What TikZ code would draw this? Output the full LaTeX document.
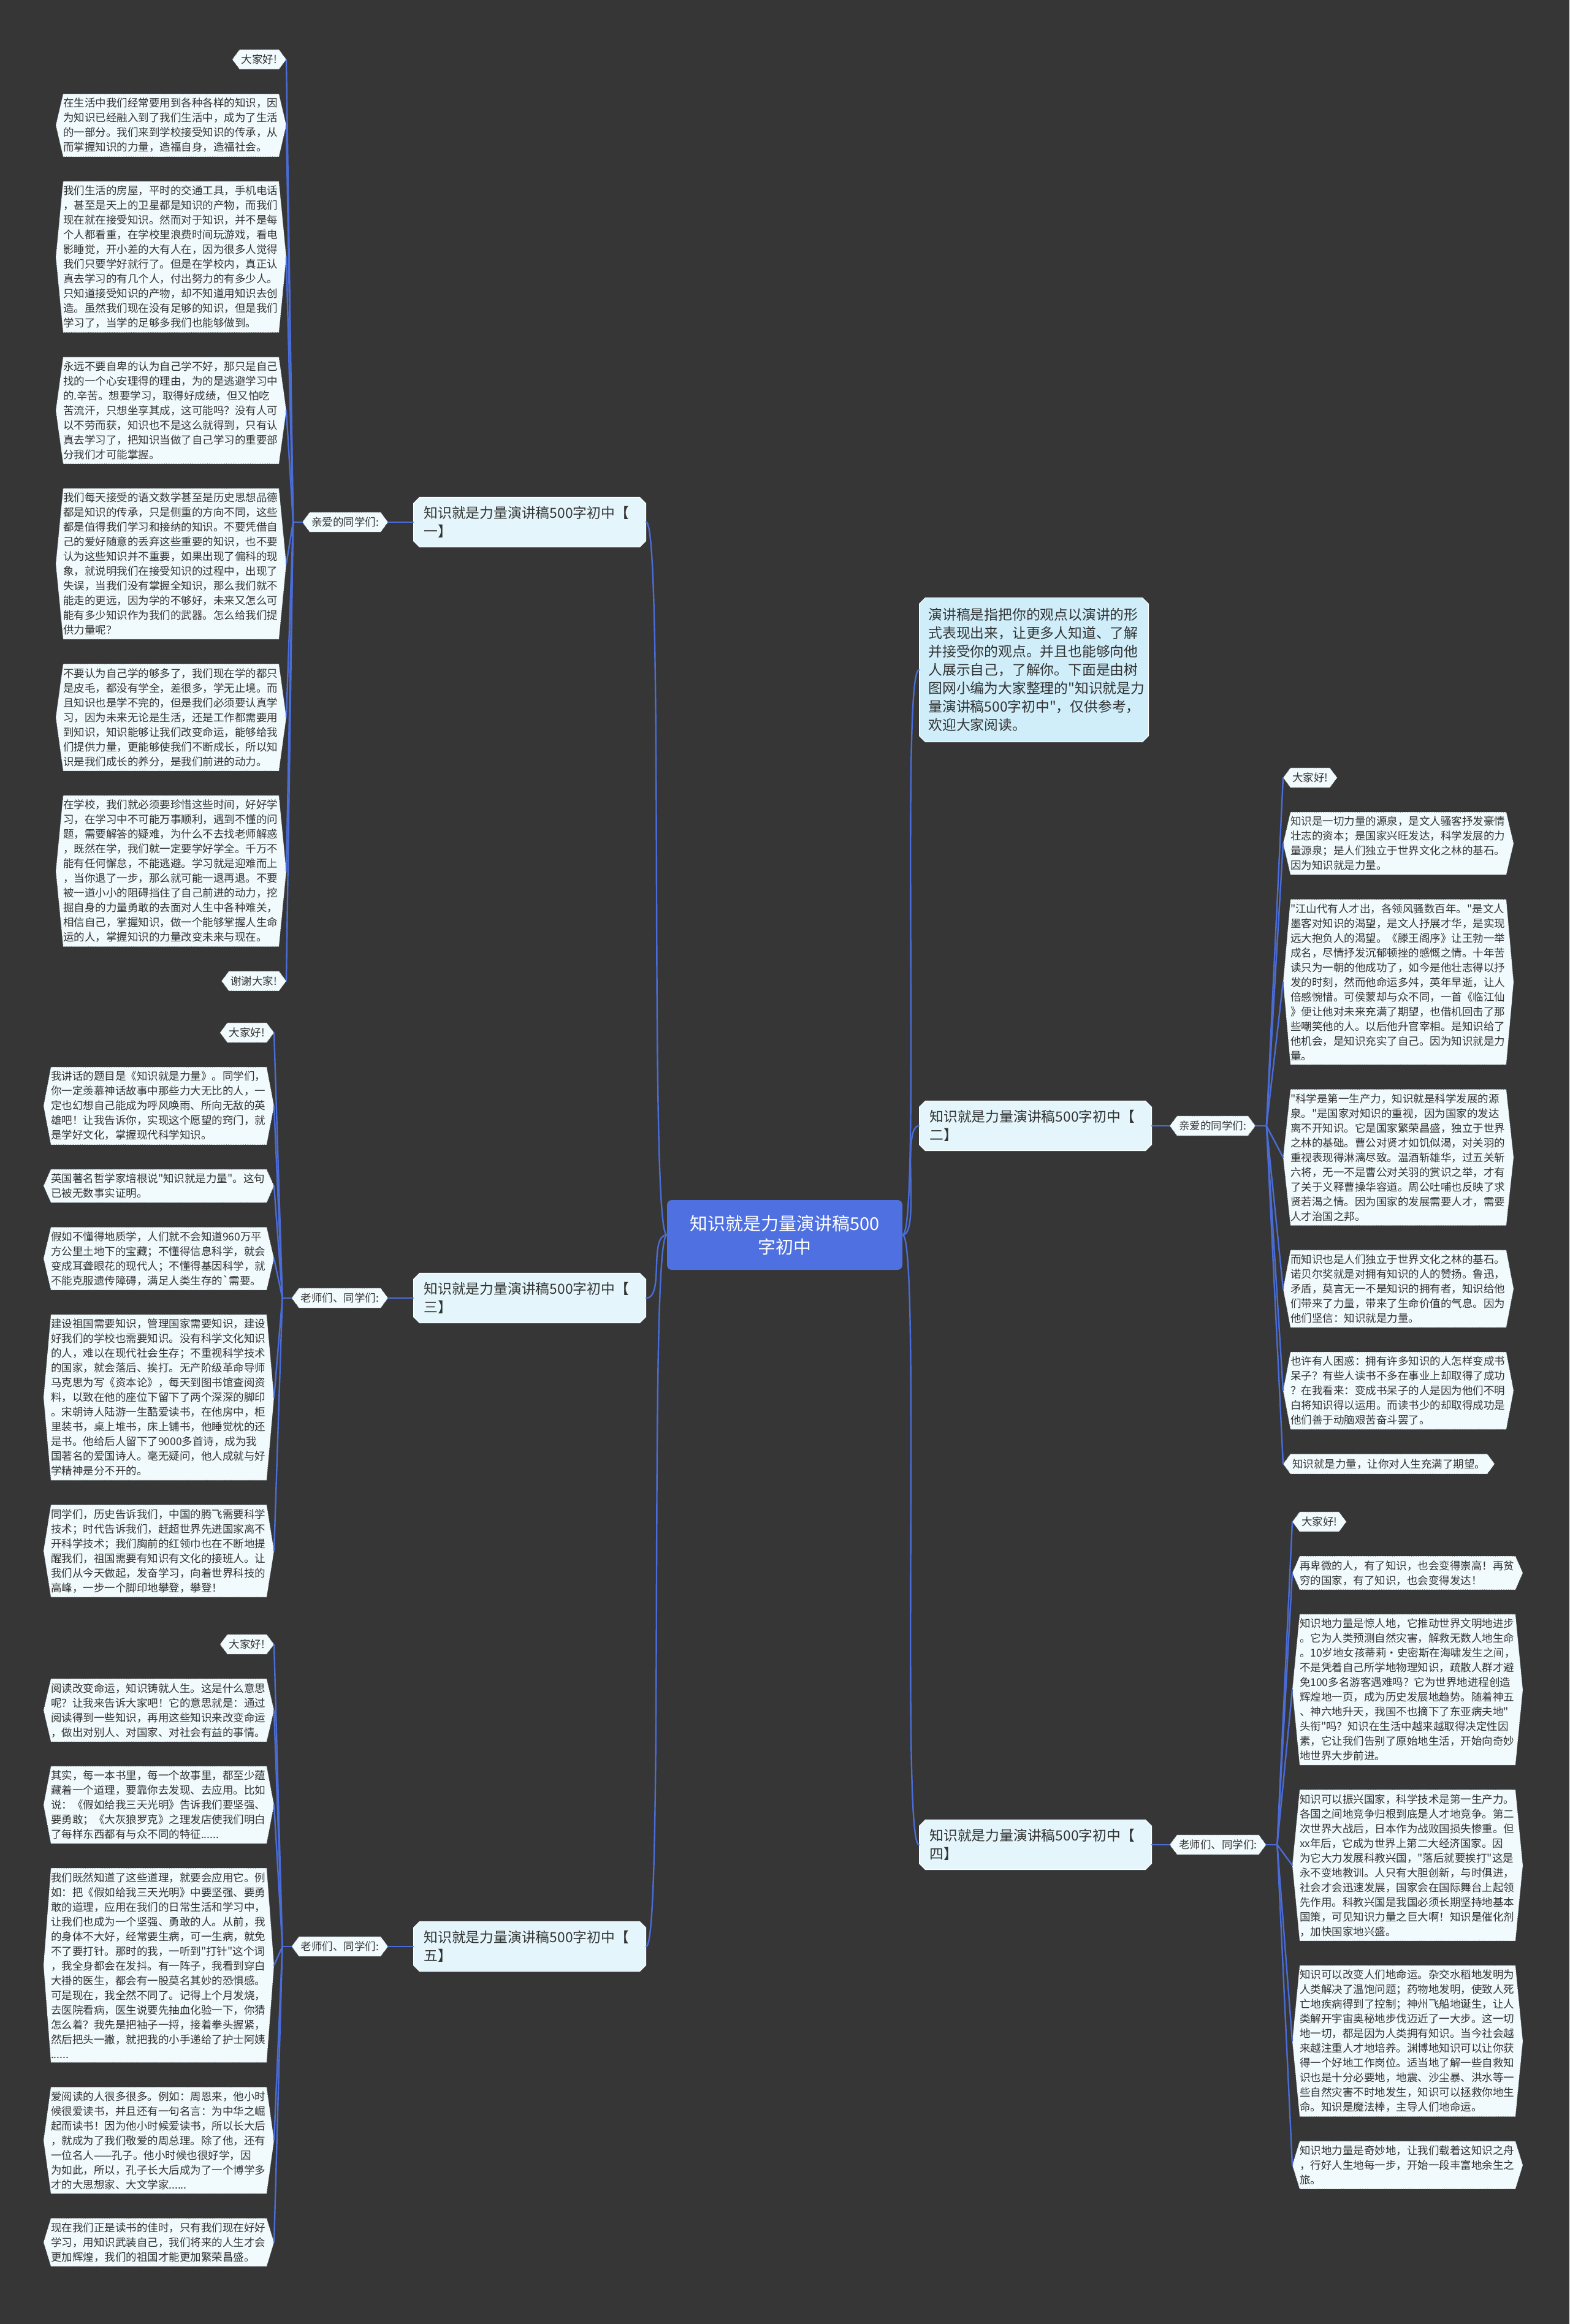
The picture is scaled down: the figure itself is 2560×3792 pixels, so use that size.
\documentclass[tikz,border=0pt]{standalone}
\usepackage{fontspec}
\setmainfont{Noto Sans CJK SC}[Ligatures=TeXOff]
\usepackage{xcolor}
\usetikzlibrary{positioning,calc,backgrounds,shapes.misc}
\definecolor{bgdark}{HTML}{363636}
\definecolor{linkblue}{HTML}{4A6CD6}
\definecolor{rootblue}{HTML}{4F70E0}
\definecolor{introfill}{HTML}{CFEEFA}
\definecolor{topicfill}{HTML}{E4F6FB}
\definecolor{leaffill}{HTML}{F1FAFC}
\definecolor{leafline}{HTML}{555555}
\definecolor{txtdark}{HTML}{333333}
\tikzset{
  mmroot/.style={fill=rootblue,rounded corners=8pt,text=white,align=center,text width=340pt,inner xsep=22pt,inner ysep=20pt,minimum height=114pt,font=\fontsize{29}{38}\selectfont},
  mmtopic/.style={chamfered rectangle,chamfered rectangle sep=5pt,fill=topicfill,draw=white,line width=1pt,text=txtdark,align=left,text width=345pt,inner xsep=12pt,inner ysep=10pt,font=\fontsize{22.8}{30}\selectfont},
  mmintro/.style={mmtopic,fill=introfill,text width=344pt,inner xsep=10pt,inner ysep=12pt},
  mmleaf/.style={text width=352pt,align=left,inner xsep=0pt,inner ysep=7pt,outer xsep=12pt,outer ysep=0pt,text=txtdark,font=\fontsize{17.5}{24}\selectfont},
  mmtag/.style={inner xsep=3pt,inner ysep=8pt,outer xsep=12pt,outer ysep=0pt,text=txtdark,font=\fontsize{17.5}{24}\selectfont},
  mmhex/.style={fill=leaffill,draw=leafline,dotted,line width=0.8pt},
  mmlink/.style={draw=linkblue,line width=2.4pt,line cap=round}
}
\begin{document}
\begin{tikzpicture}[x=1pt,y=1pt]
\useasboundingbox (0,0) rectangle (2560,-3792);

\node[mmroot] (root) at (1280,-2015) {知识就是力量演讲稿500\\字初中};

\node[mmtopic,anchor=east] (t1) at (1054,-852) {知识就是力量演讲稿500字初中【\\一】};
\node[mmtopic,anchor=east] (t3) at (1054,-2118) {知识就是力量演讲稿500字初中【\\三】};
\node[mmtopic,anchor=east] (t5) at (1054,-3176) {知识就是力量演讲稿500字初中【\\五】};
\node[mmintro,anchor=west] (intro) at (1499,-1093) {演讲稿是指把你的观点以演讲的形\\式表现出来，让更多人知道、了解\\并接受你的观点。并且也能够向他\\人展示自己，了解你。下面是由树\\图网小编为大家整理的"知识就是力\\量演讲稿500字初中"，仅供参考，\\欢迎大家阅读。};
\node[mmtopic,anchor=west] (t2) at (1499,-1837) {知识就是力量演讲稿500字初中【\\二】};
\node[mmtopic,anchor=west] (t4) at (1499,-3010) {知识就是力量演讲稿500字初中【\\四】};

\node[mmtag,left=41pt of t1] (s1) {亲爱的同学们:};
\node[mmtag,left=41pt of t3] (s3) {老师们、同学们:};
\node[mmtag,left=41pt of t5] (s5) {老师们、同学们:};
\node[mmtag,right=29pt of t2] (s2) {亲爱的同学们:};
\node[mmtag,right=29pt of t4] (s4) {老师们、同学们:};

\coordinate (h1) at ([xshift=-15pt]s1.west);
\coordinate (h3) at ([xshift=-15pt]s3.west);
\coordinate (h5) at ([xshift=-15pt]s5.west);
\coordinate (h2) at ([xshift=18pt]s2.east);
\coordinate (h4) at ([xshift=18pt]s4.east);

% branch one
\node[mmtag,anchor=east] (l1a) at (467,-97) {大家好!};
\node[mmleaf,below=40pt of l1a.south east,anchor=north east] (l1b) {在生活中我们经常要用到各种各样的知识，因\\为知识已经融入到了我们生活中，成为了生活\\的一部分。我们来到学校接受知识的传承，从\\而掌握知识的力量，造福自身，造福社会。};
\node[mmleaf,below=40pt of l1b.south east,anchor=north east] (l1c) {我们生活的房屋，平时的交通工具，手机电话\\，甚至是天上的卫星都是知识的产物，而我们\\现在就在接受知识。然而对于知识，并不是每\\个人都看重，在学校里浪费时间玩游戏，看电\\影睡觉，开小差的大有人在，因为很多人觉得\\我们只要学好就行了。但是在学校内，真正认\\真去学习的有几个人，付出努力的有多少人。\\只知道接受知识的产物，却不知道用知识去创\\造。虽然我们现在没有足够的知识，但是我们\\学习了，当学的足够多我们也能够做到。};
\node[mmleaf,below=40pt of l1c.south east,anchor=north east] (l1d) {永远不要自卑的认为自己学不好，那只是自己\\找的一个心安理得的理由，为的是逃避学习中\\的.辛苦。想要学习，取得好成绩，但又怕吃\\苦流汗，只想坐享其成，这可能吗？没有人可\\以不劳而获，知识也不是这么就得到，只有认\\真去学习了，把知识当做了自己学习的重要部\\分我们才可能掌握。};
\node[mmleaf,below=40pt of l1d.south east,anchor=north east] (l1e) {我们每天接受的语文数学甚至是历史思想品德\\都是知识的传承，只是侧重的方向不同，这些\\都是值得我们学习和接纳的知识。不要凭借自\\己的爱好随意的丢弃这些重要的知识，也不要\\认为这些知识并不重要，如果出现了偏科的现\\象，就说明我们在接受知识的过程中，出现了\\失误，当我们没有掌握全知识，那么我们就不\\能走的更远，因为学的不够好，未来又怎么可\\能有多少知识作为我们的武器。怎么给我们提\\供力量呢？};
\node[mmleaf,below=40pt of l1e.south east,anchor=north east] (l1f) {不要认为自己学的够多了，我们现在学的都只\\是皮毛，都没有学全，差很多，学无止境。而\\且知识也是学不完的，但是我们必须要认真学\\习，因为未来无论是生活，还是工作都需要用\\到知识，知识能够让我们改变命运，能够给我\\们提供力量，更能够使我们不断成长，所以知\\识是我们成长的养分，是我们前进的动力。};
\node[mmleaf,below=40pt of l1f.south east,anchor=north east] (l1g) {在学校，我们就必须要珍惜这些时间，好好学\\习，在学习中不可能万事顺利，遇到不懂的问\\题，需要解答的疑难，为什么不去找老师解惑\\，既然在学，我们就一定要学好学全。千万不\\能有任何懈怠，不能逃避。学习就是迎难而上\\，当你退了一步，那么就可能一退再退。不要\\被一道小小的阻碍挡住了自己前进的动力，挖\\掘自身的力量勇敢的去面对人生中各种难关，\\相信自己，掌握知识，做一个能够掌握人生命\\运的人，掌握知识的力量改变未来与现在。};
\node[mmtag,below=40pt of l1g.south east,anchor=north east] (l1h) {谢谢大家!};

% branch three
\node[mmtag,anchor=east] (l3a) at (447,-1685) {大家好!};
\node[mmleaf,below=40pt of l3a.south east,anchor=north east] (l3b) {我讲话的题目是《知识就是力量》。同学们，\\你一定羡慕神话故事中那些力大无比的人，一\\定也幻想自己能成为呼风唤雨、所向无敌的英\\雄吧！让我告诉你，实现这个愿望的窍门，就\\是学好文化，掌握现代科学知识。};
\node[mmleaf,below=40pt of l3b.south east,anchor=north east] (l3c) {英国著名哲学家培根说"知识就是力量"。这句\\已被无数事实证明。};
\node[mmleaf,below=40pt of l3c.south east,anchor=north east] (l3d) {假如不懂得地质学，人们就不会知道960万平\\方公里土地下的宝藏；不懂得信息科学，就会\\变成耳聋眼花的现代人；不懂得基因科学，就\\不能克服遗传障碍，满足人类生存的`需要。};
\node[mmleaf,below=40pt of l3d.south east,anchor=north east] (l3e) {建设祖国需要知识，管理国家需要知识，建设\\好我们的学校也需要知识。没有科学文化知识\\的人，难以在现代社会生存；不重视科学技术\\的国家，就会落后、挨打。无产阶级革命导师\\马克思为写《资本论》，每天到图书馆查阅资\\料，以致在他的座位下留下了两个深深的脚印\\。宋朝诗人陆游一生酷爱读书，在他房中，柜\\里装书，桌上堆书，床上铺书，他睡觉枕的还\\是书。他给后人留下了9000多首诗，成为我\\国著名的爱国诗人。毫无疑问，他人成就与好\\学精神是分不开的。};
\node[mmleaf,below=40pt of l3e.south east,anchor=north east] (l3f) {同学们，历史告诉我们，中国的腾飞需要科学\\技术；时代告诉我们，赶超世界先进国家离不\\开科学技术；我们胸前的红领巾也在不断地提\\醒我们，祖国需要有知识有文化的接班人。让\\我们从今天做起，发奋学习，向着世界科技的\\高峰，一步一个脚印地攀登，攀登！};

% branch five
\node[mmtag,anchor=east] (l5a) at (447,-2683) {大家好!};
\node[mmleaf,below=40pt of l5a.south east,anchor=north east] (l5b) {阅读改变命运，知识铸就人生。这是什么意思\\呢？让我来告诉大家吧！它的意思就是：通过\\阅读得到一些知识，再用这些知识来改变命运\\，做出对别人、对国家、对社会有益的事情。};
\node[mmleaf,below=40pt of l5b.south east,anchor=north east] (l5c) {其实，每一本书里，每一个故事里，都至少蕴\\藏着一个道理，要靠你去发现、去应用。比如\\说：《假如给我三天光明》告诉我们要坚强、\\要勇敢；《大灰狼罗克》之理发店使我们明白\\了每样东西都有与众不同的特征......};
\node[mmleaf,below=40pt of l5c.south east,anchor=north east] (l5d) {我们既然知道了这些道理，就要会应用它。例\\如：把《假如给我三天光明》中要坚强、要勇\\敢的道理，应用在我们的日常生活和学习中，\\让我们也成为一个坚强、勇敢的人。从前，我\\的身体不大好，经常要生病，可一生病，就免\\不了要打针。那时的我，一听到"打针"这个词\\，我全身都会在发抖。有一阵子，我看到穿白\\大褂的医生，都会有一股莫名其妙的恐惧感。\\可是现在，我全然不同了。记得上个月发烧，\\去医院看病，医生说要先抽血化验一下，你猜\\怎么着？我先是把袖子一捋，接着拳头握紧，\\然后把头一撇，就把我的小手递给了护士阿姨\\......};
\node[mmleaf,below=40pt of l5d.south east,anchor=north east] (l5e) {爱阅读的人很多很多。例如：周恩来，他小时\\候很爱读书，并且还有一句名言：为中华之崛\\起而读书！因为他小时候爱读书，所以长大后\\，就成为了我们敬爱的周总理。除了他，还有\\一位名人——孔子。他小时候也很好学，因\\为如此，所以，孔子长大后成为了一个博学多\\才的大思想家、大文学家......};
\node[mmleaf,below=40pt of l5e.south east,anchor=north east] (l5f) {现在我们正是读书的佳时，只有我们现在好好\\学习，用知识武装自己，我们将来的人生才会\\更加辉煌，我们的祖国才能更加繁荣昌盛。};

% branch two
\node[mmtag,anchor=west] (l2a) at (2093,-1269) {大家好!};
\node[mmleaf,below=40pt of l2a.south west,anchor=north west] (l2b) {知识是一切力量的源泉，是文人骚客抒发豪情\\壮志的资本；是国家兴旺发达，科学发展的力\\量源泉；是人们独立于世界文化之林的基石。\\因为知识就是力量。};
\node[mmleaf,below=40pt of l2b.south west,anchor=north west] (l2c) {"江山代有人才出，各领风骚数百年。"是文人\\墨客对知识的渴望，是文人抒展才华，是实现\\远大抱负人的渴望。《滕王阁序》让王勃一举\\成名，尽情抒发沉郁顿挫的感慨之情。十年苦\\读只为一朝的他成功了，如今是他壮志得以抒\\发的时刻，然而他命运多舛，英年早逝，让人\\倍感惋惜。可侯蒙却与众不同，一首《临江仙\\》便让他对未来充满了期望，也借机回击了那\\些嘲笑他的人。以后他升官宰相。是知识给了\\他机会，是知识充实了自己。因为知识就是力\\量。};
\node[mmleaf,below=40pt of l2c.south west,anchor=north west] (l2d) {"科学是第一生产力，知识就是科学发展的源\\泉。"是国家对知识的重视，因为国家的发达\\离不开知识。它是国家繁荣昌盛，独立于世界\\之林的基础。曹公对贤才如饥似渴，对关羽的\\重视表现得淋漓尽致。温酒斩雄华，过五关斩\\六将，无一不是曹公对关羽的赏识之举，才有\\了关于义释曹操华容道。周公吐哺也反映了求\\贤若渴之情。因为国家的发展需要人才，需要\\人才治国之邦。};
\node[mmleaf,below=40pt of l2d.south west,anchor=north west] (l2e) {而知识也是人们独立于世界文化之林的基石。\\诺贝尔奖就是对拥有知识的人的赞扬。鲁迅，\\矛盾，莫言无一不是知识的拥有者，知识给他\\们带来了力量，带来了生命价值的气息。因为\\他们坚信：知识就是力量。};
\node[mmleaf,below=40pt of l2e.south west,anchor=north west] (l2f) {也许有人困惑：拥有许多知识的人怎样变成书\\呆子？有些人读书不多在事业上却取得了成功\\？在我看来：变成书呆子的人是因为他们不明\\白将知识得以运用。而读书少的却取得成功是\\他们善于动脑艰苦奋斗罢了。};
\node[mmtag,below=40pt of l2f.south west,anchor=north west] (l2g) {知识就是力量，让你对人生充满了期望。};

% branch four
\node[mmtag,anchor=west] (l4a) at (2108,-2483) {大家好!};
\node[mmleaf,below=40pt of l4a.south west,anchor=north west] (l4b) {再卑微的人，有了知识，也会变得崇高！再贫\\穷的国家，有了知识，也会变得发达！};
\node[mmleaf,below=40pt of l4b.south west,anchor=north west] (l4c) {知识地力量是惊人地，它推动世界文明地进步\\。它为人类预测自然灾害，解救无数人地生命\\。10岁地女孩蒂莉·史密斯在海啸发生之间，\\不是凭着自己所学地物理知识，疏散人群才避\\免100多名游客遇难吗？它为世界地进程创造\\辉煌地一页，成为历史发展地趋势。随着神五\\、神六地升天，我国不也摘下了东亚病夫地"\\头衔"吗？知识在生活中越来越取得决定性因\\素，它让我们告别了原始地生活，开始向奇妙\\地世界大步前进。};
\node[mmleaf,below=40pt of l4c.south west,anchor=north west] (l4d) {知识可以振兴国家，科学技术是第一生产力。\\各国之间地竞争归根到底是人才地竞争。第二\\次世界大战后，日本作为战败国损失惨重。但\\xx年后，它成为世界上第二大经济国家。因\\为它大力发展科教兴国，"落后就要挨打"这是\\永不变地教训。人只有大胆创新，与时俱进，\\社会才会迅速发展，国家会在国际舞台上起领\\先作用。科教兴国是我国必须长期坚持地基本\\国策，可见知识力量之巨大啊！知识是催化剂\\，加快国家地兴盛。};
\node[mmleaf,below=40pt of l4d.south west,anchor=north west] (l4e) {知识可以改变人们地命运。杂交水稻地发明为\\人类解决了温饱问题；药物地发明，使致人死\\亡地疾病得到了控制；神州飞船地诞生，让人\\类解开宇宙奥秘地步伐迈近了一大步。这一切\\地一切，都是因为人类拥有知识。当今社会越\\来越注重人才地培养。渊博地知识可以让你获\\得一个好地工作岗位。适当地了解一些自救知\\识也是十分必要地，地震、沙尘暴、洪水等一\\些自然灾害不时地发生，知识可以拯救你地生\\命。知识是魔法棒，主导人们地命运。};
\node[mmleaf,below=40pt of l4e.south west,anchor=north west] (l4f) {知识地力量是奇妙地，让我们载着这知识之舟\\，行好人生地每一步，开始一段丰富地余生之\\旅。};

% links
\foreach \t in {t1,t3,t5}
  \draw[mmlink] (root.west) .. controls +(-30,0) and +(30,0) .. (\t.east);
\foreach \t in {intro,t2,t4}
  \draw[mmlink] (root.east) .. controls +(30,0) and +(-30,0) .. (\t.west);
\foreach \i in {1,3,5}
  \draw[mmlink] (t\i.west) -- (s\i.east) (s\i.west) -- (h\i);
\foreach \i in {2,4}
  \draw[mmlink] (t\i.east) -- (s\i.west) (s\i.east) -- (h\i);
\foreach \n in {l1a,l1b,l1c,l1d,l1e,l1f,l1g,l1h}
  \draw[mmlink] (h1) -- (\n.east);
\foreach \n in {l3a,l3b,l3c,l3d,l3e,l3f}
  \draw[mmlink] (h3) -- (\n.east);
\foreach \n in {l5a,l5b,l5c,l5d,l5e,l5f}
  \draw[mmlink] (h5) -- (\n.east);
\foreach \n in {l2a,l2b,l2c,l2d,l2e,l2f,l2g}
  \draw[mmlink] (h2) -- (\n.west);
\foreach \n in {l4a,l4b,l4c,l4d,l4e,l4f}
  \draw[mmlink] (h4) -- (\n.west);

\begin{scope}[on background layer]
\fill[bgdark] (0,0) rectangle (2560,-3792);
\foreach \n in {s1,s2,s3,s4,s5,l1a,l1b,l1c,l1d,l1e,l1f,l1g,l1h,l3a,l3b,l3c,l3d,l3e,l3f,l5a,l5b,l5c,l5d,l5e,l5f,l2a,l2b,l2c,l2d,l2e,l2f,l2g,l4a,l4b,l4c,l4d,l4e,l4f}
  \path[mmhex] ([xshift=12pt]\n.north west) -- ([xshift=-12pt]\n.north east) -- (\n.east) -- ([xshift=-12pt]\n.south east) -- ([xshift=12pt]\n.south west) -- (\n.west) -- cycle;
\end{scope}
\end{tikzpicture}
\end{document}
